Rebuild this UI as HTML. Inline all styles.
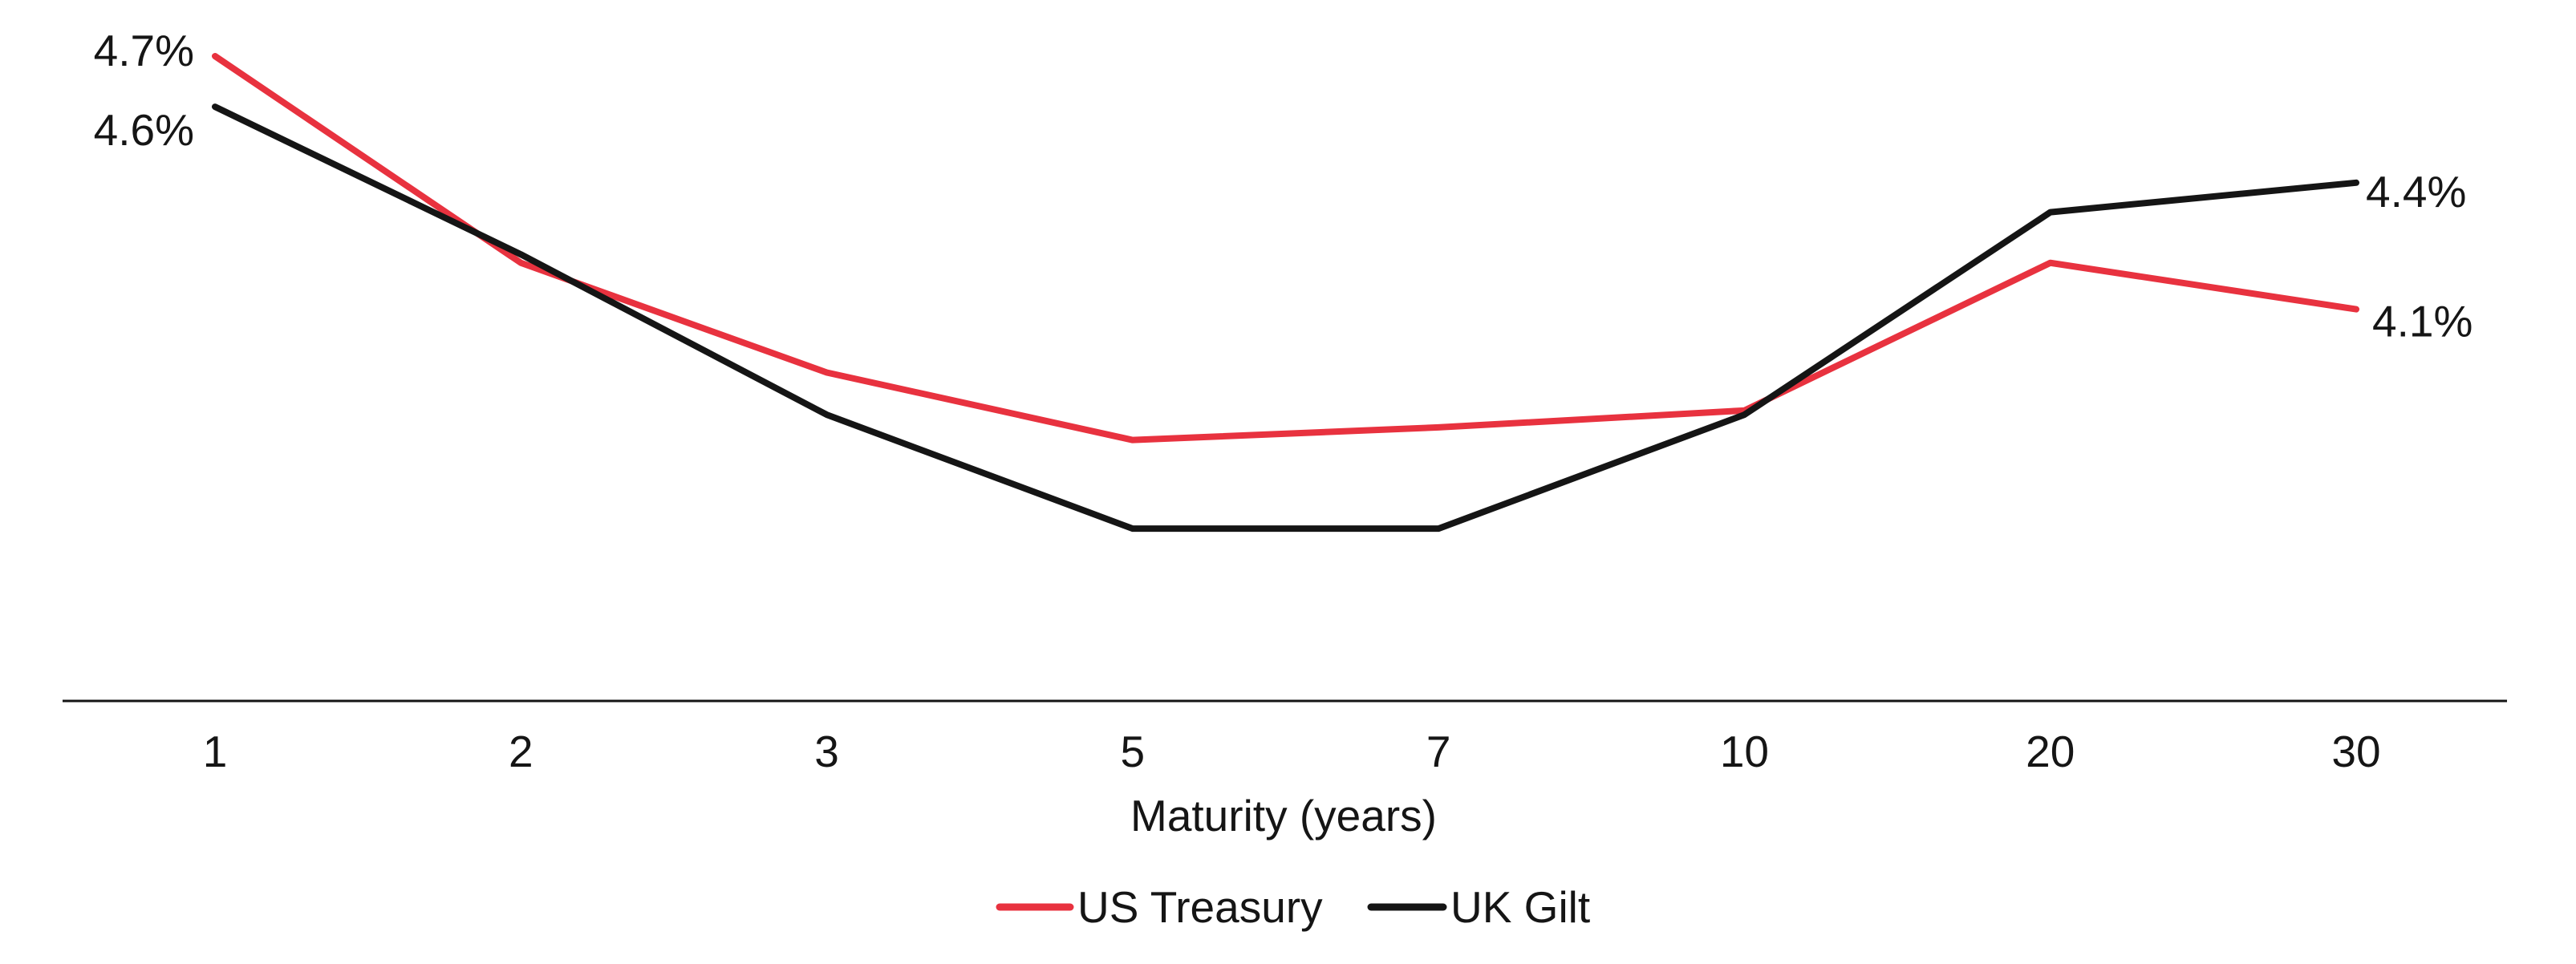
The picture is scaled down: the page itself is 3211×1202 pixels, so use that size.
<!DOCTYPE html>
<html><head><meta charset="utf-8"><style>
body{margin:0;background:#fff}
svg{display:block;font-family:"Liberation Sans",Arial,sans-serif}
</style></head><body>
<svg id="chart" width="3211" height="1202" viewBox="0 0 3211 1202">
<line x1="78" y1="874" x2="3125" y2="874" stroke="#151515" stroke-width="3"/>
<g id="ticks"></g>
<g id="series"></g>
<g id="labels"></g>
<text x="1600" y="1036" font-size="55" text-anchor="middle" fill="#151515">Maturity (years)</text>
<g>
<g>
<line x1="1246" y1="1131" x2="1334" y2="1131" stroke="#e8323f" stroke-width="9" stroke-linecap="round"/>
<text x="1343" y="1150" font-size="55" fill="#151515">US Treasury</text>
</g>
<g>
<line x1="1709" y1="1131" x2="1799" y2="1131" stroke="#151515" stroke-width="9" stroke-linecap="round"/>
<text x="1808" y="1150" font-size="55" fill="#151515">UK Gilt</text>
</g>
</g>
</svg>
<script>
const categories = ["1","2","3","5","7","10","20","30"];
const usTreasury = [4.70, 4.21, 3.95, 3.79, 3.82, 3.86, 4.21, 4.10];
const ukGilt = [4.58, 4.23, 3.85, 3.58, 3.58, 3.85, 4.33, 4.40];
const endLabels = ["4.7%", "4.6%", "4.4%", "4.1%"];

const NS = "http://www.w3.org/2000/svg";
function xPos(i){ return 268 + i * (2937 - 268) / (categories.length - 1); }
function yPos(v){ return 70 + (4.7 - v) * 526; }
function mk(tag, attrs, parent){
  const el = document.createElementNS(NS, tag);
  for (const k in attrs) el.setAttribute(k, attrs[k]);
  parent.appendChild(el);
  return el;
}
const ticks = document.getElementById('ticks');
categories.forEach((c, i) => {
  const t = mk('text', {x: xPos(i), y: 956, 'font-size': 55, 'text-anchor': 'middle', fill: '#151515'}, ticks);
  
  
  t.textContent = c;
});
const series = document.getElementById('series');
function drawLine(vals, color, name){
  const pts = vals.map((v, i) => xPos(i) + ',' + yPos(v)).join(' ');
  const p = mk('polyline', {points: pts, fill: 'none', stroke: color, 'stroke-width': 8, 'stroke-linejoin': 'round', 'stroke-linecap': 'round'}, series);
  
  
}
drawLine(usTreasury, '#e8323f', 'us-treasury-line');
drawLine(ukGilt, '#151515', 'uk-gilt-line');
const labels = document.getElementById('labels');
const n = categories.length - 1;
const lab = [
  {x: xPos(0) - 26, y: yPos(usTreasury[0]) + 12, a: 'end', t: endLabels[0], nm: 'us-treasury-start-label'},
  {x: xPos(0) - 26, y: yPos(ukGilt[0]) + 48, a: 'end', t: endLabels[1], nm: 'uk-gilt-start-label'},
  {x: xPos(n) + 12, y: yPos(ukGilt[n]) + 30, a: 'start', t: endLabels[2], nm: 'uk-gilt-end-label'},
  {x: xPos(n) + 20, y: yPos(usTreasury[n]) + 34, a: 'start', t: endLabels[3], nm: 'us-treasury-end-label'}
];
lab.forEach(l => {
  const t = mk('text', {x: l.x, y: l.y, 'font-size': 55, 'text-anchor': l.a, fill: '#151515'}, labels);
  
  
  t.textContent = l.t;
});
</script>
</body></html>
